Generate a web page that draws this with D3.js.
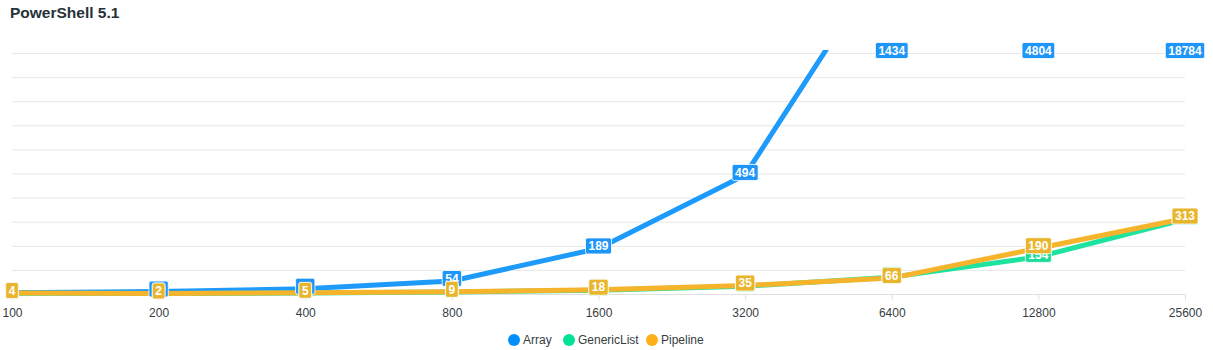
<!DOCTYPE html>
<html>
<head>
<meta charset="utf-8">
<script src="https://cdn.jsdelivr.net/npm/d3@7"></script>
<style>
  html, body { margin: 0; padding: 0; background: #fff; }
  svg { display: block; font-family: "Liberation Sans", Arial, Helvetica, sans-serif; }
</style>
</head>
<body>
<svg id="chart" width="1213" height="350"></svg>
<script>
// Benchmark: time per approach for growing collection sizes
const sizes = ["100", "200", "400", "800", "1600", "3200", "6400", "12800", "25600"];
const arrayValues = [5, 10, 22, 54, 189, 494, 1434, 4804, 18784];
const genericListValues = [3, 2, 4, 8, 16, 32, 70, 154, 310];
const pipelineValues = [4, 2, 5, 9, 18, 35, 66, 190, 313];
const seriesNames = ["Array", "GenericList", "Pipeline"];
const seriesColors = ["#1E9BFA", "#1EE39E", "#F6B42C"];
const labelColors = ["#1E96F8", "#1EDC98", "#E9B52C"];
const legendColors = ["#008FFB", "#00E396", "#FEB019"];
const yMax = 1000;
const yTicks = [0, 100, 200, 300, 400, 500, 600, 700, 800, 900, 1000];

const series = [arrayValues, genericListValues, pipelineValues].map((vals, i) => ({
  name: seriesNames[i], color: seriesColors[i], labelColor: labelColors[i], values: vals
}));

const svg = d3.select("#chart");
const plotLeft = 12, plotRight = 1185, plotTop = 53, plotBottom = 294;

const x = d3.scalePoint().domain(sizes).range([plotLeft, plotRight]);
const y = d3.scaleLinear().domain([0, yMax]).range([plotBottom, plotTop]);

// Title
svg.append("text")
  .attr("x", 10).attr("y", 18)
  .attr("font-size", 15.5).attr("font-weight", "bold")
  .attr("fill", "#263238")
  .text("PowerShell 5.1");

// Horizontal grid
svg.append("g")
  .selectAll("line")
  .data(yTicks.slice(1))
  .join("line")
  .attr("x1", plotLeft).attr("x2", plotRight)
  .attr("y1", d => y(d) + 0.5).attr("y2", d => y(d) + 0.5)
  .attr("stroke", "#e7e7e7").attr("stroke-width", 1);

// X axis
const xAxis = svg.append("g")
  .attr("transform", `translate(0,${plotBottom + 0.5})`)
  .call(d3.axisBottom(x).tickSize(6).tickPadding(8));
xAxis.select(".domain").attr("stroke", "#e0e0e0").attr("d", `M${plotLeft},0H${plotRight}`);
xAxis.selectAll(".tick line").attr("stroke", "#e0e0e0");
xAxis.selectAll(".tick text")
  .attr("font-size", 12).attr("fill", "#373d3f")
  .attr("font-family", "Liberation Sans, Arial, sans-serif");

// Clip lines to the plot area
svg.append("defs").append("clipPath").attr("id", "plot-clip")
  .append("rect").attr("x", 0).attr("y", plotTop - 3).attr("width", 1213).attr("height", plotBottom - plotTop + 10);

const line = d3.line()
  .x((d, i) => x(sizes[i]))
  .y(d => y(d));

svg.append("g").attr("clip-path", "url(#plot-clip)")
  .selectAll("path")
  .data(series)
  .join("path")
  .attr("d", s => line(s.values))
  .attr("fill", "none")
  .attr("stroke", s => s.color)
  .attr("stroke-width", 5)
  .attr("stroke-linejoin", "round")
  .attr("stroke-linecap", "butt");

// Data labels (values above the axis max sit at the top edge)
const labelLayer = svg.append("g");
series.forEach(s => {
  s.values.forEach((v, i) => {
    const cx = x(sizes[i]);
    const cy = y(Math.min(v, yMax)) - 2.5;
    const g = labelLayer.append("g").attr("transform", `translate(${cx},${cy})`);
    const t = g.append("text")
      .attr("text-anchor", "middle")
      .attr("dy", "0.36em")
      .attr("font-size", 12).attr("font-weight", "bold")
      .attr("fill", "#fff")
      .text(v);
    const w = t.node().getComputedTextLength() + 6;
    g.insert("rect", "text")
      .attr("x", -w / 2).attr("y", -8)
      .attr("width", w).attr("height", 16)
      .attr("rx", 2)
      .attr("fill", s.labelColor)
      .attr("stroke", "#fff").attr("stroke-width", 1).attr("stroke-opacity", 0.8);
  });
});

// Legend
const legendItems = [
  { name: seriesNames[0], color: legendColors[0], cx: 514 },
  { name: seriesNames[1], color: legendColors[1], cx: 569 },
  { name: seriesNames[2], color: legendColors[2], cx: 652 }
];
const legend = svg.append("g");
legendItems.forEach(d => {
  legend.append("circle").attr("cx", d.cx).attr("cy", 340).attr("r", 6).attr("fill", d.color);
  legend.append("text")
    .attr("x", d.cx + 9).attr("y", 344)
    .attr("font-size", 12).attr("fill", "#373d3f")
    .text(d.name);
});
</script>
</body>
</html>
